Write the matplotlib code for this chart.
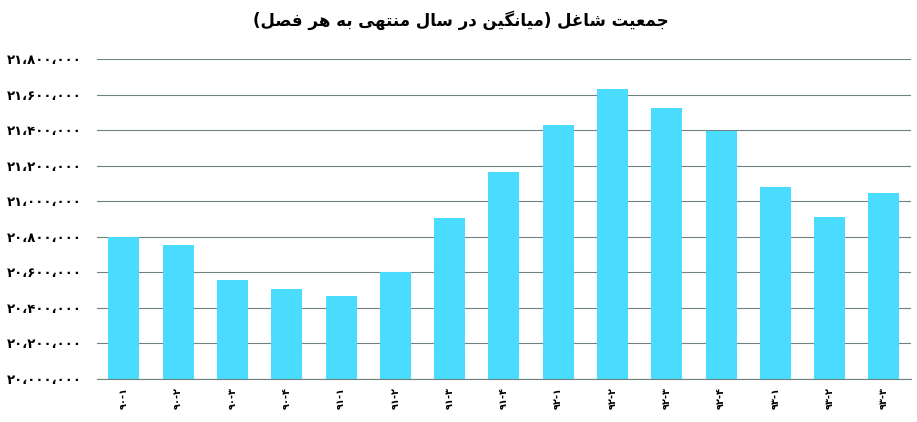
import numpy as np
import matplotlib
matplotlib.use('Agg')
import matplotlib.pyplot as plt
from matplotlib.ticker import FuncFormatter

# data (average over the year ending each quarter)
quarters = ['۱', '۲', '۳', '۴'] * 3 + ['۱', '۲', '۳']
years = ['۹۰'] * 4 + ['۹۱'] * 4 + ['۹۲'] * 4 + ['۹۳'] * 3
employed = [20800000, 20751000, 20557000, 20506000, 20467000,
            20600000, 20906000, 21162000, 21430000, 21630000,
            21523000, 21398000, 21081000, 20911000, 21047000]
title_text = 'جمعیت شاغل (میانگین در سال منتهی به هر فصل)'

# matplotlib has no arabic shaping, so build presentation forms by hand
forms = {
    'ا': (0xFE8D, 0xFE8E, None, None),
    'ب': (0xFE8F, 0xFE90, 0xFE91, 0xFE92),
    'ت': (0xFE95, 0xFE96, 0xFE97, 0xFE98),
    'ج': (0xFE9D, 0xFE9E, 0xFE9F, 0xFEA0),
    'د': (0xFEA9, 0xFEAA, None, None),
    'ر': (0xFEAD, 0xFEAE, None, None),
    'س': (0xFEB1, 0xFEB2, 0xFEB3, 0xFEB4),
    'ش': (0xFEB5, 0xFEB6, 0xFEB7, 0xFEB8),
    'ص': (0xFEB9, 0xFEBA, 0xFEBB, 0xFEBC),
    'ع': (0xFEC9, 0xFECA, 0xFECB, 0xFECC),
    'غ': (0xFECD, 0xFECE, 0xFECF, 0xFED0),
    'ف': (0xFED1, 0xFED2, 0xFED3, 0xFED4),
    'ل': (0xFEDD, 0xFEDE, 0xFEDF, 0xFEE0),
    'م': (0xFEE1, 0xFEE2, 0xFEE3, 0xFEE4),
    'ن': (0xFEE5, 0xFEE6, 0xFEE7, 0xFEE8),
    'ه': (0xFEE9, 0xFEEA, 0xFEEB, 0xFEEC),
    'ی': (0xFBFC, 0xFBFD, 0xFBFE, 0xFBFF),
    'گ': (0xFB92, 0xFB93, 0xFB94, 0xFB95),
}


def shape(s):
    out = []
    for i, ch in enumerate(s):
        if ch not in forms:
            out.append({'(': ')', ')': '('}.get(ch, ch))
            continue
        prev = s[i - 1] if i > 0 else ''
        nxt = s[i + 1] if i + 1 < len(s) else ''
        jp = prev in forms and forms[prev][2] is not None
        jn = forms[ch][2] is not None and nxt in forms
        f = forms[ch]
        if jp and jn:
            c = f[3]
        elif jp:
            c = f[1]
        elif jn:
            c = f[2]
        else:
            c = f[0]
        out.append(chr(c))
    return ''.join(reversed(out))


fa_digits = str.maketrans('0123456789,', '۰۱۲۳۴۵۶۷۸۹،')
xlabels = [y + '-' + q for y, q in zip(years, quarters)]

fig = plt.figure(figsize=(9.17, 4.22), dpi=100)
ax = fig.add_axes([0.1055, 0.102, 0.888, 0.758])

x = np.arange(len(employed))
ax.bar(x, employed, width=0.57, color='#4adcff', zorder=2)

ax.set_xlim(-0.5, len(employed) - 0.5)
ax.set_ylim(20000000, 21800000)
ax.set_yticks(np.arange(20000000, 21800001, 200000))
ax.yaxis.set_major_formatter(FuncFormatter(lambda v, p: f'{int(v):,}'.translate(fa_digits)))
ax.grid(axis='y', color='#6f8181', linewidth=0.8, zorder=1)
ax.set_axisbelow(True)
for s in ['top', 'right', 'left']:
    ax.spines[s].set_visible(False)
ax.spines['bottom'].set_color('#6f8181')
ax.spines['bottom'].set_linewidth(0.8)

ax.set_xticks(x)
ax.set_xticklabels(xlabels, rotation=90, fontsize=7, fontweight='bold', family=['DejaVu Sans'])
ax.tick_params(axis='x', length=0, pad=6)
ax.tick_params(axis='y', length=0, pad=11)
for lab in ax.get_yticklabels():
    lab.set_fontsize(9.5)
    lab.set_fontweight('bold')

fig.text(0.502, 0.952, shape(title_text), ha='center', va='center',
         fontsize=12, fontweight='bold', family=['DejaVu Sans'])

fig.savefig('out.png', dpi=100)
